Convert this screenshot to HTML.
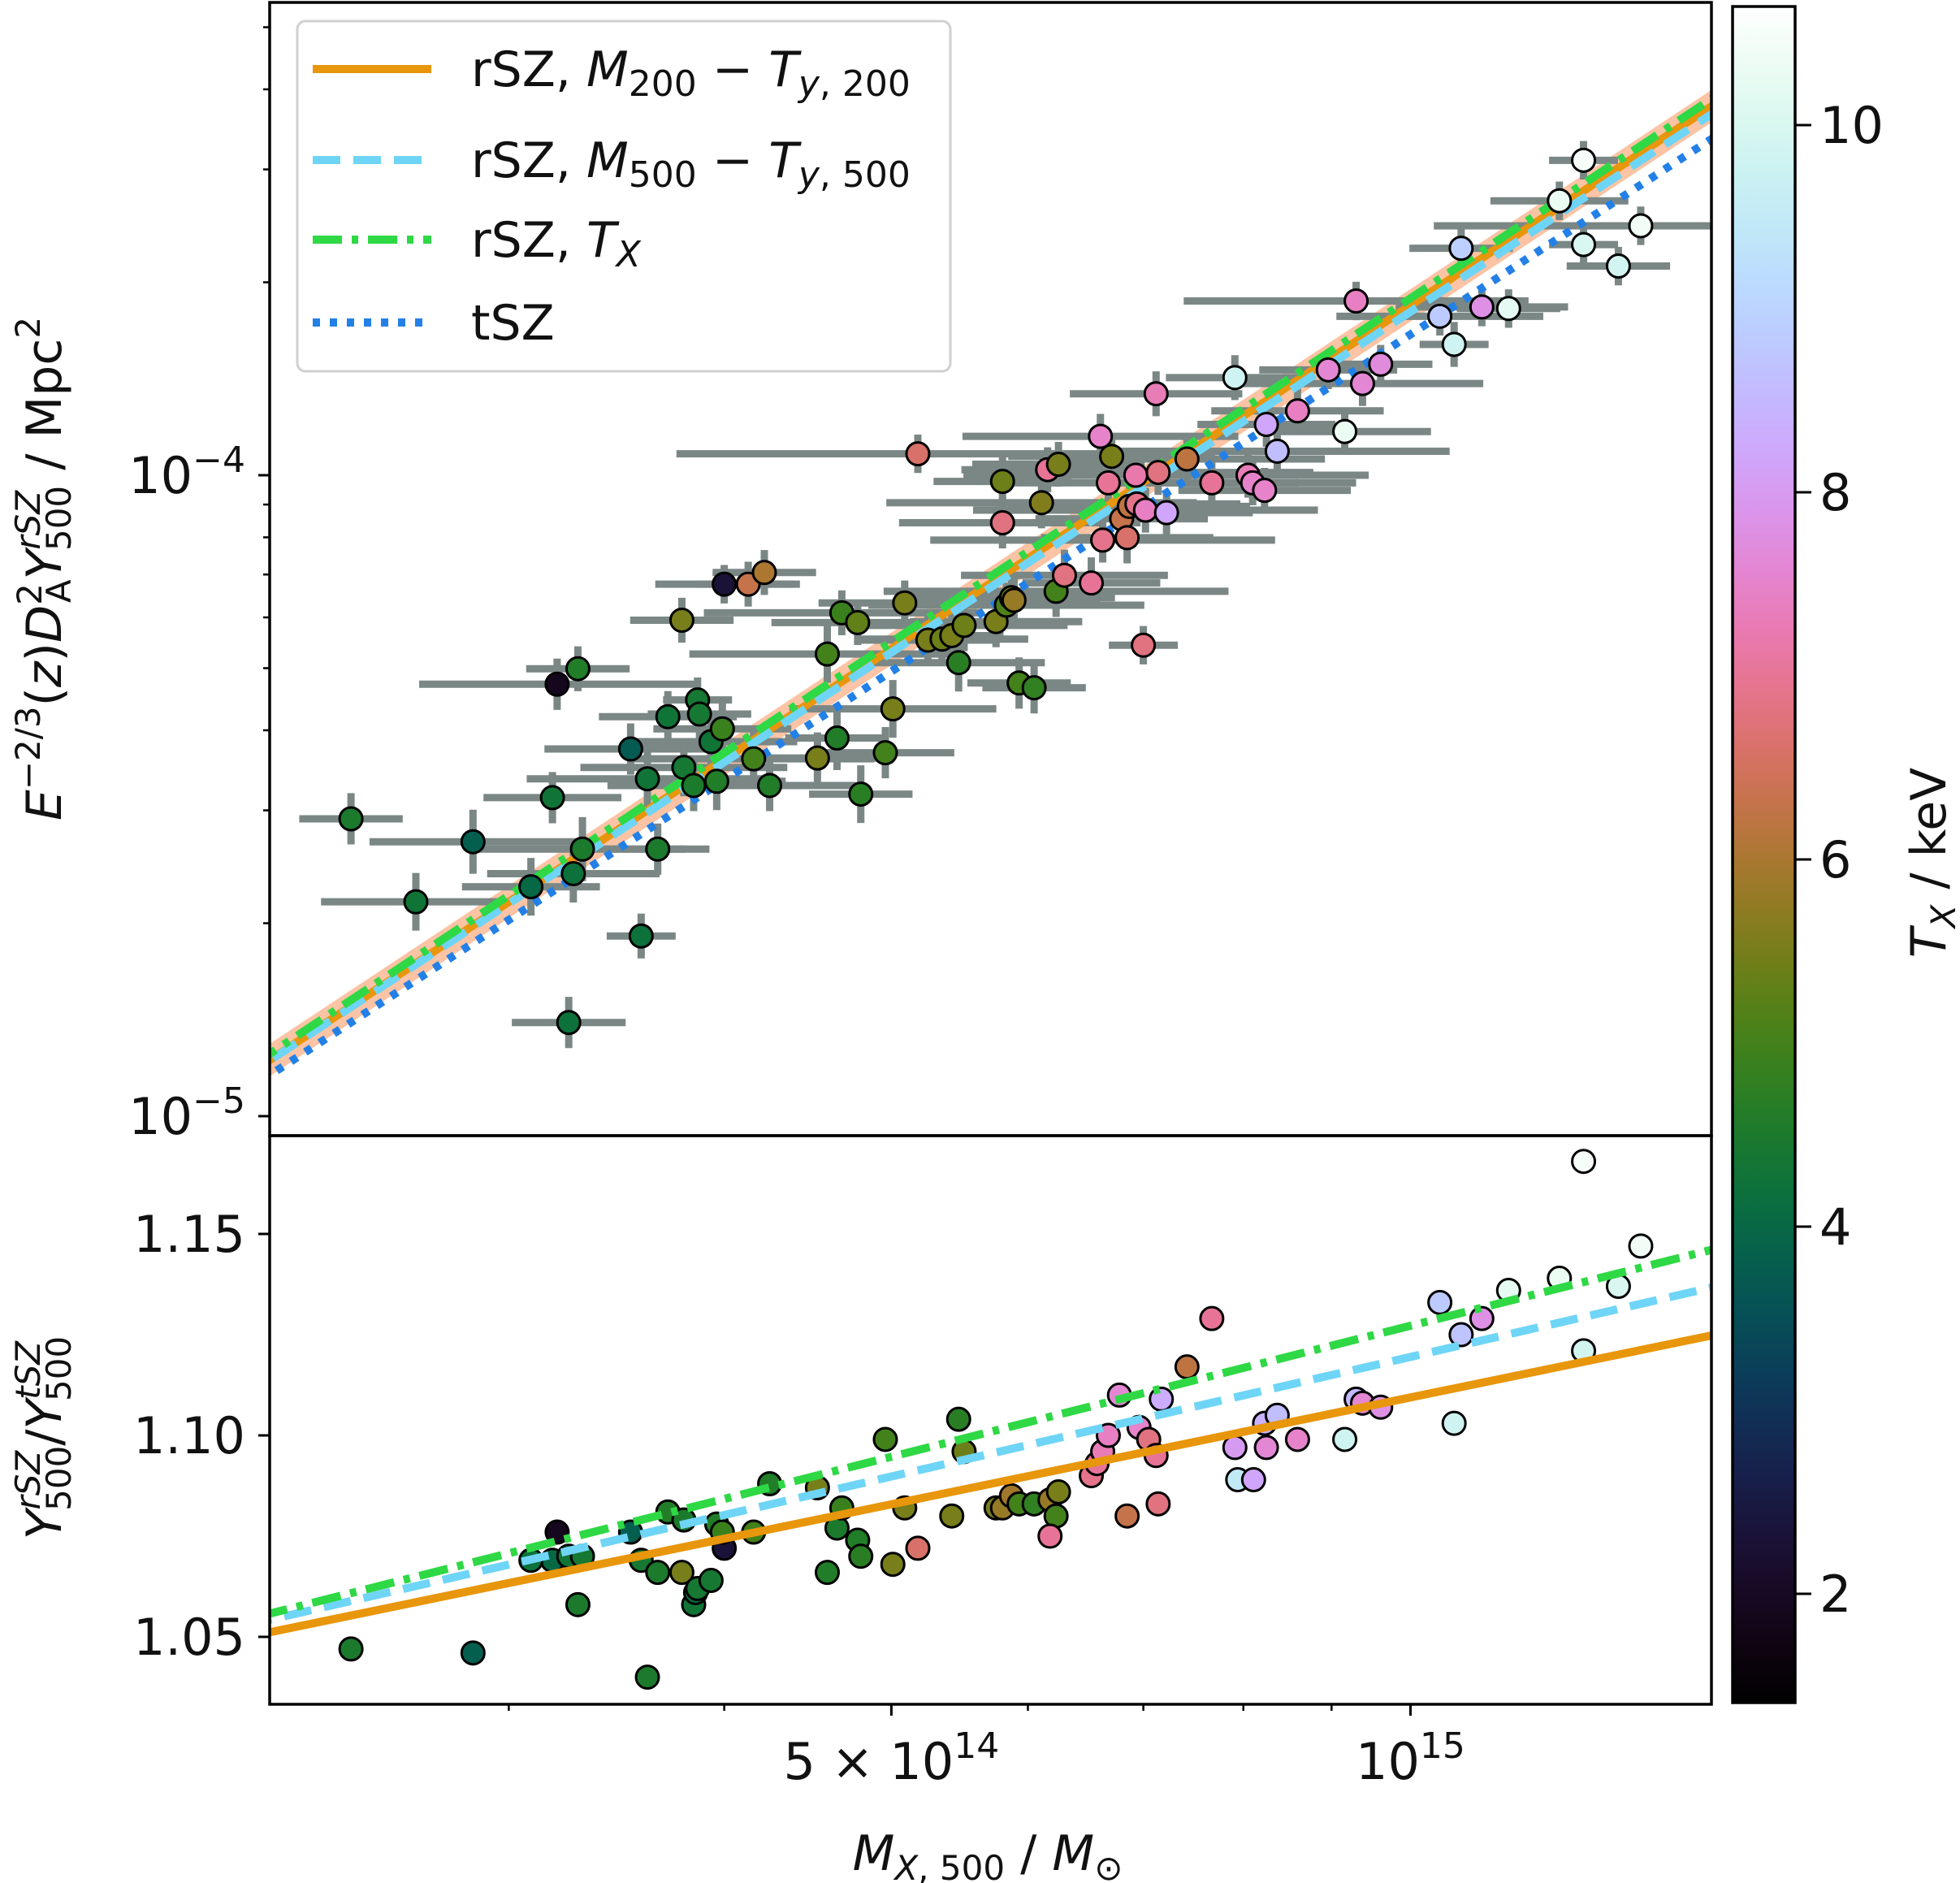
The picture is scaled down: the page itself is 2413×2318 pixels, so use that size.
<!DOCTYPE html>
<html><head><meta charset="utf-8"><style>
html,body{margin:0;padding:0;background:#fff}
svg{display:block;font-family:"DejaVu Sans","Liberation Sans",sans-serif}
</style></head><body>
<svg id="chart" width="2413" height="2318" viewBox="0 0 2413 2318" xmlns="http://www.w3.org/2000/svg">
<defs>
<clipPath id="clipTop"><rect x="332" y="3" width="1775" height="1395"/></clipPath>
<clipPath id="clipBot"><rect x="332" y="1398" width="1775" height="700"/></clipPath>
<linearGradient id="cbGrad" x1="0" y1="1" x2="0" y2="0"></linearGradient>
</defs>
<g id="topData" clip-path="url(#clipTop)"></g>
<g id="botData" clip-path="url(#clipBot)"></g>
<g id="axes"></g>
</svg>
<script>
// ---- data (mass in 1e14 Msun, Y in 1e-5 Mpc^2, T in keV) ----
const massTop = [2.43,2.65,2.86,3.09,3.18,3.20,3.25,3.27,3.29,3.31,3.53,3.58,3.61,3.66,3.71,3.78,3.79,3.84,3.86,3.87,3.93,3.96,3.99,4.00,4.13,4.22,4.16,4.25,4.53,4.59,4.65,4.68,4.78,4.80,4.96,5.01,5.09,5.18,5.25,5.35,5.42,5.47,5.51,5.75,5.80,5.80,5.83,5.87,5.89,5.93,6.05,6.11,6.16,6.23,6.25,6.30,6.53,6.61,6.63,6.68,6.71,6.80,6.85,6.87,6.93,6.94,7.00,7.02,7.12,7.14,7.22,7.42,7.67,7.91,8.05,8.10,8.23,8.25,8.37,8.60,8.96,9.16,9.30,9.38,9.61,10.4,10.6,10.7,11.0,11.4,12.2,12.6,12.6,13.2,13.6];
const yTop = [2.91,2.16,2.68,2.28,3.14,4.72,1.40,2.39,4.99,2.61,3.74,1.91,3.36,2.61,4.20,5.94,3.50,3.28,4.46,4.24,3.84,3.33,4.02,6.76,6.76,7.05,3.61,3.28,3.62,5.26,3.89,6.10,5.89,3.18,3.69,4.32,6.32,10.8,5.53,5.55,5.62,5.10,5.83,5.91,9.78,8.43,6.27,6.44,6.38,4.74,4.66,9.06,10.2,6.59,10.4,6.98,6.79,11.5,7.92,9.73,10.7,8.55,7.99,8.94,10.0,9.02,5.43,8.82,13.4,10.1,8.74,10.6,9.73,14.2,10.0,9.73,9.47,12.0,10.9,12.6,14.6,11.7,18.7,13.9,14.9,17.7,16.0,22.6,18.3,18.2,26.8,31.0,22.9,21.2,24.5];
const tTop = [4.5,4.3,3.8,4.0,4.3,1.9,4.2,4.2,4.6,4.5,3.7,4.2,4.3,4.5,4.3,5.5,4.4,4.5,4.4,4.4,4.3,4.6,4.9,2.3,6.3,6.0,5.0,4.6,5.5,5.0,4.6,4.9,5.3,4.7,5.0,5.5,5.5,6.6,5.5,5.4,5.5,4.7,5.4,5.5,5.4,6.8,5.1,5.5,5.8,5.0,4.8,5.6,7.0,5.0,5.5,6.8,7.0,7.5,6.9,7.0,5.5,6.3,6.6,6.2,7.2,6.9,6.8,7.4,7.3,6.8,8.2,6.2,7.0,9.8,7.3,7.5,7.5,8.2,8.6,7.4,7.6,10.3,7.4,7.6,7.7,8.8,9.8,8.9,7.8,10.2,10.3,10.5,10.0,9.9,10.4];
const xErrDex = [0.03,0.055,0.06,0.04,0.04,0.08,0.033,0.05,0.03,0.06,0.05,0.02,0.07,0.03,0.04,0.03,0.06,0.05,0.02,0.03,0.05,0.04,0.04,0.04,0.03,0.03,0.07,0.05,0.04,0.08,0.03,0.08,0.05,0.03,0.04,0.06,0.05,0.14,0.04,0.05,0.03,0.05,0.06,0.05,0.04,0.06,0.08,0.06,0.05,0.03,0.03,0.09,0.05,0.1,0.05,0.06,0.04,0.08,0.1,0.06,0.06,0.05,0.05,0.07,0.1,0.06,0.02,0.1,0.05,0.09,0.05,0.08,0.05,0.04,0.07,0.06,0.05,0.04,0.1,0.05,0.04,0.05,0.1,0.07,0.03,0.06,0.02,0.03,0.05,0.03,0.04,0.02,0.02,0.03,0.12];
const yErrDex = [0.04,0.045,0.05,0.045,0.04,0.04,0.04,0.045,0.035,0.05,0.04,0.035,0.05,0.04,0.04,0.035,0.045,0.04,0.035,0.04,0.04,0.045,0.045,0.03,0.035,0.035,0.045,0.04,0.04,0.045,0.05,0.035,0.035,0.045,0.04,0.045,0.035,0.03,0.04,0.04,0.04,0.045,0.04,0.04,0.04,0.04,0.035,0.035,0.035,0.04,0.04,0.04,0.035,0.04,0.035,0.04,0.04,0.035,0.035,0.035,0.035,0.035,0.04,0.035,0.035,0.035,0.03,0.035,0.035,0.035,0.035,0.035,0.035,0.035,0.035,0.035,0.035,0.035,0.035,0.035,0.03,0.035,0.03,0.035,0.03,0.03,0.035,0.03,0.03,0.03,0.03,0.03,0.03,0.03,0.03];
const massBot = [2.43,2.86,3.20,3.18,3.09,3.25,3.29,3.31,3.53,3.58,3.61,3.66,3.71,3.78,3.79,3.84,3.85,3.86,3.93,3.96,4.00,3.99,4.16,4.25,4.53,4.59,4.65,4.68,4.78,4.80,4.96,5.01,5.09,5.18,5.42,5.47,5.51,5.75,5.80,5.87,5.93,6.05,6.18,6.23,6.25,6.18,6.53,6.58,6.63,6.68,6.78,6.85,6.96,7.05,7.12,7.14,7.17,7.42,7.67,7.91,7.94,8.11,8.23,8.25,8.37,8.60,9.16,9.30,9.38,9.61,10.4,10.6,10.7,11.0,11.4,12.2,12.6,12.6,13.2,13.6];
const ratioBot = [1.047,1.046,1.076,1.069,1.069,1.070,1.058,1.070,1.076,1.069,1.040,1.066,1.081,1.066,1.079,1.058,1.061,1.062,1.064,1.078,1.072,1.076,1.076,1.088,1.087,1.066,1.077,1.082,1.074,1.070,1.099,1.068,1.082,1.072,1.080,1.104,1.096,1.082,1.082,1.085,1.083,1.083,1.084,1.080,1.086,1.075,1.090,1.093,1.096,1.100,1.110,1.080,1.102,1.099,1.095,1.083,1.109,1.117,1.129,1.097,1.089,1.089,1.103,1.097,1.105,1.099,1.099,1.109,1.108,1.107,1.133,1.103,1.125,1.129,1.136,1.139,1.168,1.121,1.137,1.147];
const tBot = [4.5,3.8,1.9,4.0,4.2,4.3,4.5,4.4,3.8,4.4,4.5,4.5,4.6,5.5,4.5,4.3,4.1,4.4,4.4,4.6,2.3,4.9,5.0,4.6,5.5,4.6,4.5,4.9,4.6,4.7,5.0,5.5,5.5,6.6,5.5,4.7,5.4,5.5,5.8,5.9,5.0,4.8,5.8,5.0,5.5,7.0,6.9,7.0,7.3,7.4,7.6,6.3,7.5,6.8,7.0,6.8,8.3,6.2,7.0,8.0,9.5,8.2,8.4,7.6,8.6,7.5,9.8,8.5,7.6,7.8,8.8,9.8,8.7,7.8,10.2,10.3,10.5,9.9,10.0,10.4];
// fit lines: Y(5e14) and log slope
const fitNames = ["rSZ-M200","rSZ-M500","rSZ-TX","tSZ"];
const fitNorm = [5.36,5.29,5.49,4.94];
const fitSlope = [1.78,1.766,1.782,1.747];
const ratioAt5 = [1.0829,1.0898,1.0947];
const ratioSlope = [0.0881,0.0986,0.108];
const cbTicks = [2,4,6,8,10];
const yTopTicks = [1,10];
const yBotTicks = [1.05,1.10,1.15];

// ---- scales ----
const NS="http://www.w3.org/2000/svg";
const LM0=Math.log10(2.18), PXD=2123;
const xS=m=>332+(Math.log10(m)-LM0)*PXD;
const yT=v=>585-(Math.log10(v)-1)*789;
const yB=r=>1519-(r-1.15)*4960;
const TMIN=1.41,TMAX=10.64;
const yC=t=>1962-(t-2)*226;
function cube(t){
  let x=Math.max(0,Math.min(1,(t-TMIN)/(TMAX-TMIN)));
  const ang=2*Math.PI*(0.5/3-1.5*x), a=1.4*x*(1-x)/2, c=Math.cos(ang), s=Math.sin(ang);
  const f=v=>Math.round(255*Math.max(0,Math.min(1,v)));
  return `rgb(${f(x+a*(-0.14861*c+1.78277*s))},${f(x+a*(-0.29227*c-0.90649*s))},${f(x+a*(1.97294*c))})`;
}
function el(tag,attrs,parent){const e=document.createElementNS(NS,tag);for(const k in attrs)e.setAttribute(k,attrs[k]);parent.appendChild(e);return e;}
const topG=document.getElementById('topData'), botG=document.getElementById('botData'), ax=document.getElementById('axes');

// error band around orange fit
const mA=2.0, mB=16;
function fitY(i,m){return fitNorm[i]*Math.pow(m/5,fitSlope[i]);}
let band=[];
for(let k=0;k<=40;k++){const m=mA*Math.pow(mB/mA,k/40);band.push(`${xS(m)},${yT(fitY(0,m))-20}`);}
for(let k=40;k>=0;k--){const m=mA*Math.pow(mB/mA,k/40);band.push(`${xS(m)},${yT(fitY(0,m))+20}`);}
const bandEl=el('polygon',{points:band.join(' '),fill:'#fbb894',opacity:'0.85'},topG);



// error bars
massTop.forEach((m,i)=>{
  const x=xS(m), y=yT(yTop[i]);
  const h=el('line',{x1:xS(m/Math.pow(10,xErrDex[i])),x2:xS(m*Math.pow(10,xErrDex[i])),y1:y,y2:y,stroke:'#7a8785','stroke-width':9},topG);
  
  
  const v=el('line',{x1:x,x2:x,y1:yT(yTop[i]/Math.pow(10,yErrDex[i])),y2:yT(yTop[i]*Math.pow(10,yErrDex[i])),stroke:'#7a8785','stroke-width':9},topG);
  
  
});
// fit lines
const fitStyles=[{c:'#e8960c',d:''},{c:'#6fd5f6',d:'34 16'},{c:'#2fd845',d:'36 12 8 12'},{c:'#2380e6',d:'9 12'}];
function fitPath(i){let p=[];for(let k=0;k<=20;k++){const m=mA*Math.pow(mB/mA,k/20);p.push((k?'L':'M')+xS(m)+','+yT(fitY(i,m)));}return p.join('');}
[0,1,3,2].forEach(i=>{
  const p=el('path',{d:fitPath(i),fill:'none',stroke:fitStyles[i].c,'stroke-width':10,'stroke-dasharray':fitStyles[i].d},topG);
  
  
});
// markers
massTop.forEach((m,i)=>{
  const c=el('circle',{cx:xS(m),cy:yT(yTop[i]),r:14,fill:cube(tTop[i]),stroke:'#000','stroke-width':3},topG);
  
  
});
// bottom ratio lines
function rPath(i){return `M${xS(mA)},${yB(ratioAt5[i]+ratioSlope[i]*Math.log10(mA/5))}L${xS(mB)},${yB(ratioAt5[i]+ratioSlope[i]*Math.log10(mB/5))}`;}
massBot.forEach((m,i)=>{
  const c=el('circle',{cx:xS(m),cy:yB(ratioBot[i]),r:14,fill:cube(tBot[i]),stroke:'#000','stroke-width':3},botG);
  
  
});
[0,1,2].forEach(i=>{
  const p=el('path',{d:rPath(i),fill:'none',stroke:fitStyles[i].c,'stroke-width':10,'stroke-dasharray':fitStyles[i].d},botG);
  
  
});

// legend
const lg=el('g',{},ax);


el('rect',{x:366,y:26,width:804,height:431,rx:10,fill:'#fff','fill-opacity':0.85,stroke:'#d0d0d0','stroke-width':3},lg);
const legRows=[85,197,295,397];
const legText=[
 'rSZ, <tspan font-style="italic">M</tspan><tspan font-size="44" dy="12">200</tspan><tspan dy="-12"> − </tspan><tspan font-style="italic">T</tspan><tspan font-size="44" dy="12"><tspan font-style="italic">y</tspan>, 200</tspan>',
 'rSZ, <tspan font-style="italic">M</tspan><tspan font-size="44" dy="12">500</tspan><tspan dy="-12"> − </tspan><tspan font-style="italic">T</tspan><tspan font-size="44" dy="12"><tspan font-style="italic">y</tspan>, 500</tspan>',
 'rSZ, <tspan font-style="italic">T</tspan><tspan font-size="44" font-style="italic" dy="12">X</tspan>',
 'tSZ'];
[0,1,2,3].forEach(i=>{
  const l=el('line',{x1:385,x2:531,y1:legRows[i],y2:legRows[i],stroke:fitStyles[i].c,'stroke-width':10,'stroke-dasharray':fitStyles[i].d},lg);
  
  
  const t=el('text',{x:580,y:legRows[i]+21,'font-size':60,fill:'#111'},lg);
  t.innerHTML=legText[i];
  
  
});

// axes frames
el('rect',{x:332,y:3,width:1775,height:1395,fill:'none',stroke:'#000','stroke-width':3.5},ax);
el('rect',{x:332,y:1398,width:1775,height:700,fill:'none',stroke:'#000','stroke-width':3.5},ax);
// y ticks top
for(let d=0;d<2;d++)for(let k=1;k<=9;k++){const v=k*Math.pow(10,d);const y=yT(v);if(y<3||y>1398)continue;
  el('line',{x1:332,x2:k===1?318:324,y1:y,y2:y,stroke:'#000','stroke-width':k===1?3:2.5},ax);}
for(let k=1;k<=5;k++){const y=yT(k*100);if(y>3)el('line',{x1:332,x2:324,y1:y,y2:y,stroke:'#000','stroke-width':2.5},ax);}
yTopTicks.forEach((v,i)=>{const t=el('text',{x:302,y:yT(v)+22,'font-size':62,'text-anchor':'end',fill:'#111'},ax);
  t.innerHTML='10<tspan font-size="44" dy="-26">'+(i?'−4':'−5')+'</tspan>';
  
  });
// y ticks bottom
yBotTicks.forEach(v=>{const y=yB(v);el('line',{x1:332,x2:318,y1:y,y2:y,stroke:'#000','stroke-width':3},ax);
  const t=el('text',{x:302,y:y+22,'font-size':62,'text-anchor':'end',fill:'#111'},ax);t.textContent=v.toFixed(2);
  
  });
// x ticks
[3,4,5,6,7,8,9,10].forEach(m=>{const x=xS(m);const major=(m===5||m===10);
  el('line',{x1:x,x2:x,y1:2098,y2:major?2112:2106,stroke:'#000','stroke-width':major?3:2.5},ax);});
let tx1=el('text',{x:xS(5),y:2190,'font-size':62,'text-anchor':'middle',fill:'#111'},ax);
tx1.innerHTML='5 × 10<tspan font-size="44" dy="-26">14</tspan>';


let tx2=el('text',{x:xS(10),y:2190,'font-size':62,'text-anchor':'middle',fill:'#111'},ax);
tx2.innerHTML='10<tspan font-size="44" dy="-26">15</tspan>';


// axis titles
let xt=el('text',{x:1216,y:2302,'font-size':60,'text-anchor':'middle',fill:'#111'},ax);
xt.innerHTML='<tspan font-style="italic">M</tspan><tspan font-size="42" dy="12"><tspan font-style="italic">X</tspan>, 500</tspan><tspan dy="-12"> / </tspan><tspan font-style="italic">M</tspan><tspan font-size="42" dy="12">⊙</tspan>';


let yt1=el('text',{x:0,y:0,'font-size':60,'text-anchor':'middle',fill:'#111',transform:'translate(75,700) rotate(-90)'},ax);
yt1.innerHTML='<tspan font-style="italic">E</tspan><tspan font-size="42" dy="-26">−2/3</tspan><tspan dy="26">(</tspan><tspan font-style="italic">z</tspan>)<tspan font-style="italic">D</tspan><tspan font-size="42" dy="-24">2</tspan><tspan font-size="42" dx="-24" dy="36">A</tspan><tspan font-style="italic" dy="-12">Y</tspan><tspan font-size="42" font-style="italic" dy="-26">rSZ</tspan><tspan font-size="42" dx="-74" dy="38">500</tspan><tspan dy="-12"> / Mpc</tspan><tspan font-size="42" dy="-26">2</tspan>';


let yt2=el('text',{x:0,y:0,'font-size':60,'text-anchor':'middle',fill:'#111',transform:'translate(75,1770) rotate(-90)'},ax);
yt2.innerHTML='<tspan font-style="italic">Y</tspan><tspan font-size="42" font-style="italic" dy="-26">rSZ</tspan><tspan font-size="42" dx="-74" dy="38">500</tspan><tspan dy="-12">/</tspan><tspan font-style="italic">Y</tspan><tspan font-size="42" font-style="italic" dy="-26">tSZ</tspan><tspan font-size="42" dx="-74" dy="38">500</tspan>';



// colorbar
const g=document.getElementById('cbGrad');
for(let k=0;k<=30;k++){const tt=TMIN+(TMAX-TMIN)*k/30;el('stop',{offset:(k/30),'stop-color':cube(tt)},g);}
const cb=el('rect',{x:2133,y:8,width:77,height:2088,fill:'url(#cbGrad)',stroke:'#000','stroke-width':3.5},ax);


cbTicks.forEach(v=>{const y=yC(v);el('line',{x1:2210,x2:2230,y1:y,y2:y,stroke:'#000','stroke-width':3},ax);
  const tl=el('text',{x:2240,y:y+22,'font-size':62,fill:'#111'},ax);tl.textContent=v;
  
  });
let ct=el('text',{x:0,y:0,'font-size':60,'text-anchor':'middle',fill:'#111',transform:'translate(2395,1062) rotate(-90)'},ax);
ct.innerHTML='<tspan font-style="italic">T</tspan><tspan font-size="42" font-style="italic" dy="12">X</tspan><tspan dy="-12"> / keV</tspan>';


</script>
</body></html>
